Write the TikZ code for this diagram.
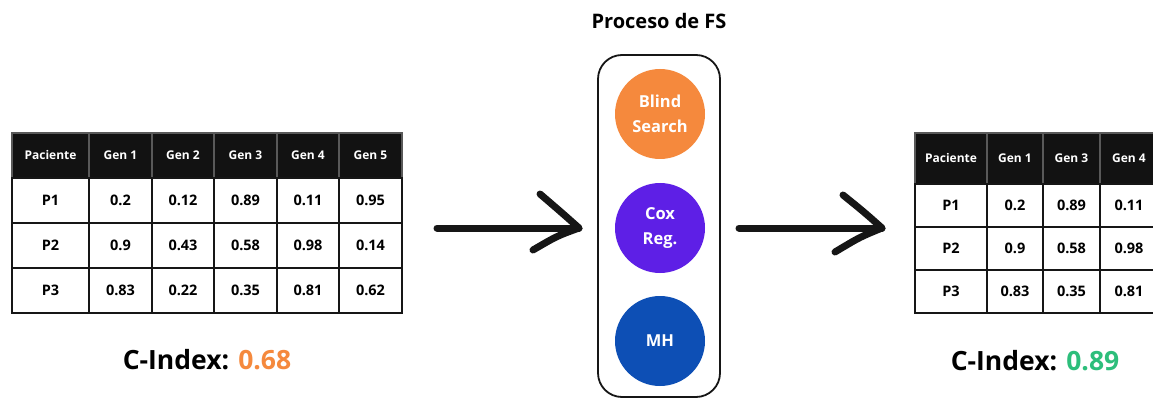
\documentclass[tikz,border=0pt]{standalone}
\usepackage{fontspec}
\setmainfont{Open Sans}
\usetikzlibrary{calc}

\definecolor{fsorange}{HTML}{F5893D}
\definecolor{fspurple}{HTML}{5E1FE6}
\definecolor{fsblue}{HTML}{0D4FB5}
\definecolor{fsgreen}{HTML}{2DBE7B}
\definecolor{hdr}{HTML}{121212}
\definecolor{ink}{HTML}{161616}

\tikzset{
  hcell/.style={draw=black!65, fill=hdr, text=white, inner sep=0pt,
    line width=1.2pt, font=\bfseries\fontsize{12}{14}\selectfont},
  bcell/.style={draw=ink, fill=white, text=black, inner sep=0pt,
    line width=1.6pt, font=\bfseries\fontsize{14.5}{16}\selectfont},
  method/.style={circle, minimum size=90pt, inner sep=0pt, text=white,
    align=center, font=\bfseries\fontsize{16.5}{25}\selectfont},
  panel/.style={draw=ink, line width=1.8pt, rounded corners=24pt},
  handstroke/.style={draw=ink, line width=7pt, line cap=round, line join=round},
  cidx/.style={anchor=base, font=\bfseries\fontsize{26.5}{30}\selectfont},
  heading/.style={anchor=base, font=\bfseries\fontsize{20}{24}\selectfont}
}

\begin{document}
\begin{tikzpicture}[x=1pt,y=-1pt]
\clip (0,0) rectangle (1153,398);
\fill[white] (0,0) rectangle (1153,398);

% ---- input table: all genes ----
\def\LX{{50.5,120.5,183,245.5,308,370.5}}
\def\LW{{77,63,62,63,62,63}}
\foreach \row/\ry/\vals in {
  0/155.5/{Paciente,Gen 1,Gen 2,Gen 3,Gen 4,Gen 5},
  1/200.5/{P1,0.2,0.12,0.89,0.11,0.95},
  2/245.5/{P2,0.9,0.43,0.58,0.98,0.14},
  3/290.5/{P3,0.83,0.22,0.35,0.81,0.62}}{
  \foreach \v [count=\c] in \vals {
    \pgfmathsetmacro\cx{\LX[\c-1]}
    \pgfmathsetmacro\cw{\LW[\c-1]}
    \ifnum\row=0
      \node[hcell, minimum width=\cw, minimum height=45] (L-\row-\c) at (\cx,\ry) {\v};
    \else
      \node[bcell, minimum width=\cw, minimum height=45] (L-\row-\c) at (\cx,\ry) {\v};
    \fi
  }
}

% ---- selected-gene table ----
\def\RX{{951,1015,1071.5,1129}}
\def\RW{{72,56,57,58}}
\foreach \row/\ry/\rh/\vals in {
  0/158.5/51/{Paciente,Gen 1,Gen 3,Gen 4},
  1/205.5/43/{P1,0.2,0.89,0.11},
  2/248.5/43/{P2,0.9,0.58,0.98},
  3/291.5/43/{P3,0.83,0.35,0.81}}{
  \foreach \v [count=\c] in \vals {
    \pgfmathsetmacro\cx{\RX[\c-1]}
    \pgfmathsetmacro\cw{\RW[\c-1]}
    \ifnum\row=0
      \node[hcell, minimum width=\cw, minimum height=\rh] (R-\row-\c) at (\cx,\ry) {\v};
    \else
      \node[bcell, minimum width=\cw, minimum height=\rh] (R-\row-\c) at (\cx,\ry) {\v};
    \fi
  }
}

% ---- scores ----
\node[cidx] (cL) at (207,369) {C-Index: \textcolor{fsorange}{0.68}};
\node[cidx] (cR) at (1035,370) {C-Index: \textcolor{fsgreen}{0.89}};

% ---- feature selection panel ----
\node[heading] (title) at (659,29) {Proceso de FS};
\draw[panel] (598,55) rectangle (720,397);
\node[method, fill=fsorange] (blind) at (660,114) {Blind\\Search};
\node[method, fill=fspurple] (cox) at (660,228) {Cox\\Reg.};
\node[method, fill=fsblue] (mh) at (660,341) {MH};

% ---- hand-drawn arrows ----
\coordinate (a1s) at (437,228);
\coordinate (a1e) at (579,228);
\coordinate (a2s) at (739,228);
\coordinate (a2e) at (882,228);
\draw[handstroke] (a1s) -- (a1e);
\draw[handstroke] ($(a1e)+(-39,-34)$) .. controls ($(a1e)+(-18,-16)$) .. (a1e)
  .. controls ($(a1e)+(-22,8)$) .. ($(a1e)+(-46,22)$);
\draw[handstroke] (a2s) -- (a2e);
\draw[handstroke] ($(a2e)+(-39,-33)$) .. controls ($(a2e)+(-18,-16)$) .. (a2e)
  .. controls ($(a2e)+(-22,9)$) .. ($(a2e)+(-47,24)$);
\end{tikzpicture}
\end{document}
